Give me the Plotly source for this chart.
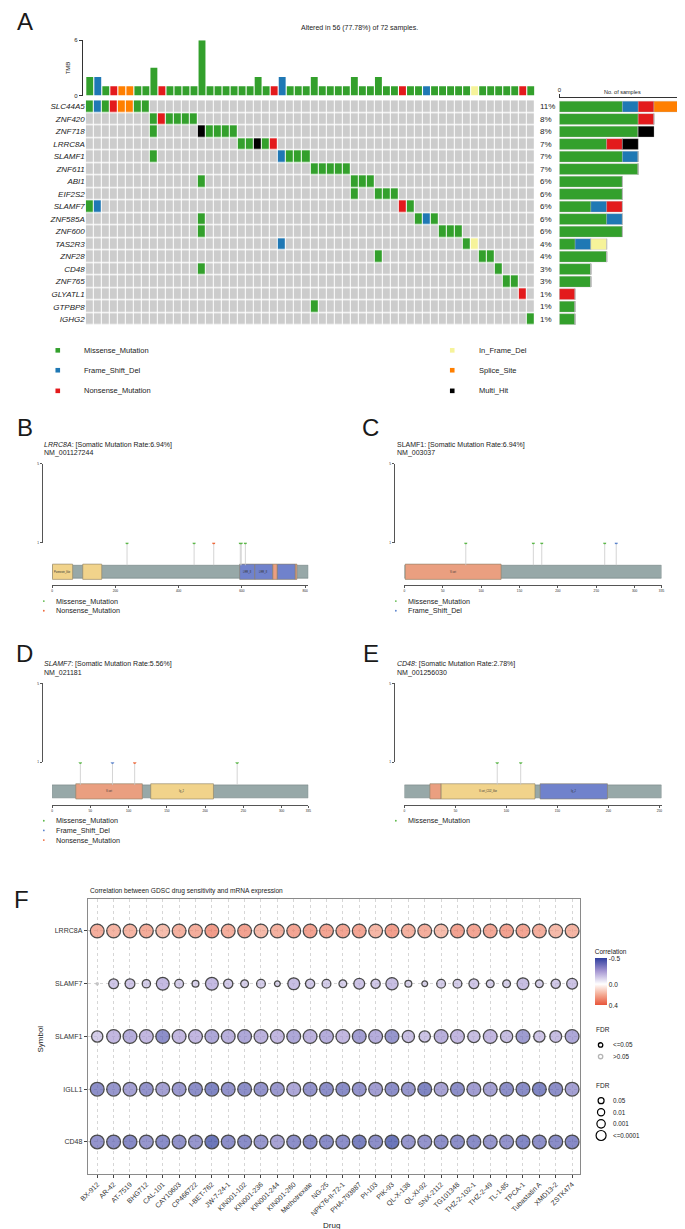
import math
import plotly.graph_objects as go

W, H = 685, 1229
FONT = "Liberation Sans, Arial, sans-serif"


def fx(p):
    return p / W


def fy(p):
    return 1 - p / H


# =========================== DATA ===========================
# ---- Panel A : oncoplot ----
TOTAL_SAMPLES = 72
genes = ["SLC44A5", "ZNF420", "ZNF718", "LRRC8A", "SLAMF1", "ZNF611", "ABI1", "EIF2S2",
         "SLAMF7", "ZNF585A", "ZNF600", "TAS2R3", "ZNF28", "CD48", "ZNF765", "GLYATL1",
         "GTPBP8", "IGHG2"]
variant_classes = ["Missense_Mutation", "Frame_Shift_Del", "Nonsense_Mutation",
                   "In_Frame_Del", "Splice_Site", "Multi_Hit"]
class_codes = ["M", "F", "N", "I", "S", "X"]
# (altered sample column, variant class code) for each gene
mut_SLC44A5 = [(1, "M"), (2, "F"), (3, "M"), (4, "N"), (5, "S"), (6, "S"), (7, "M"), (8, "M")]
mut_ZNF420 = [(9, "M"), (10, "N"), (11, "M"), (12, "M"), (13, "M"), (14, "M")]
mut_ZNF718 = [(9, "M"), (15, "X"), (16, "M"), (17, "M"), (18, "M"), (19, "M")]
mut_LRRC8A = [(20, "M"), (21, "M"), (22, "X"), (23, "M"), (24, "N")]
mut_SLAMF1 = [(9, "M"), (25, "F"), (26, "M"), (27, "M"), (28, "M")]
mut_ZNF611 = [(29, "M"), (30, "M"), (31, "M"), (32, "M"), (33, "M")]
mut_ABI1 = [(15, "M"), (34, "M"), (35, "M"), (36, "M")]
mut_EIF2S2 = [(34, "M"), (37, "M"), (38, "M"), (39, "M")]
mut_SLAMF7 = [(1, "M"), (2, "F"), (40, "N"), (41, "M")]
mut_ZNF585A = [(15, "M"), (42, "M"), (43, "F"), (44, "M")]
mut_ZNF600 = [(15, "M"), (45, "M"), (46, "M"), (47, "M")]
mut_TAS2R3 = [(25, "F"), (48, "M"), (49, "I")]
mut_ZNF28 = [(37, "M"), (50, "M"), (51, "M")]
mut_CD48 = [(15, "M"), (52, "M")]
mut_ZNF765 = [(53, "M"), (54, "M")]
mut_GLYATL1 = [(55, "N")]
mut_GTPBP8 = [(29, "M")]
mut_IGHG2 = [(56, "M")]
gene_mutations = [mut_SLC44A5, mut_ZNF420, mut_ZNF718, mut_LRRC8A, mut_SLAMF1, mut_ZNF611,
                  mut_ABI1, mut_EIF2S2, mut_SLAMF7, mut_ZNF585A, mut_ZNF600, mut_TAS2R3,
                  mut_ZNF28, mut_CD48, mut_ZNF765, mut_GLYATL1, mut_GTPBP8, mut_IGHG2]

# ---- Panels B-E : lollipop plots ----
lolli_genes = ["LRRC8A", "SLAMF1", "SLAMF7", "CD48"]
lolli_italic = [True, False, True, True]
lolli_transcripts = ["NM_001127244", "NM_003037", "NM_021181", "NM_001256030"]
lolli_lengths = [810, 335, 335, 252]
lolli_ticks = [[0, 200, 400, 600, 800],
               [0, 50, 100, 150, 200, 250, 300, 335],
               [0, 50, 100, 150, 200, 250, 300, 335],
               [0, 50, 100, 150, 200, 250]]
lolli_pos = [[237, 449, 511, 595, 598, 611],
             [80, 168, 179, 261, 276],
             [37, 79, 108, 242],
             [91, 114]]
lolli_cls = [["M", "M", "N", "M", "M", "M"],
             ["M", "M", "M", "M", "F"],
             ["M", "F", "N", "M"],
             ["M", "M"]]
lolli_domains = [
    [("Pannexin_like", 1, 65), ("Pannexin_like2", 97, 157), ("LRR_8", 593, 641),
     ("LRR_8b", 641, 698), ("LRR_4", 698, 712), ("LRR_8c", 712, 769), ("LRR_4b", 769, 774)],
    [("V-set", 1, 126)],
    [("V-set", 31, 118), ("Ig_2", 129, 211)],
    [("sig", 25, 36), ("V-set_CD48", 36, 128), ("Ig_2", 133, 199)],
]
lolli_domain_labels = {"Pannexin_like": "Pannexin_like", "LRR_8": "LRR_8", "LRR_8b": "LRR_8",
                       "V-set": "V-set", "Ig_2": "Ig_2", "V-set_CD48": "V-set_CD2_like"}

# ---- Panel F : GDSC correlation bubble plot ----
drugs = ["BX-912", "AR-42", "AT-7519", "BHG712", "CAL-101", "CAY10603", "CP466722",
         "I-BET-762", "JW-7-24-1", "KIN001-102", "KIN001-236", "KIN001-244", "KIN001-260",
         "Methotrexate", "NG-25", "NPK76-II-72-1", "PHA-793887", "PI-103", "PIK-93",
         "QL-X-138", "QL-XI-92", "SNX-2112", "TG101348", "THZ-2-102-1", "THZ-2-49",
         "TL-1-85", "TPCA-1", "Tubastatin A", "XMD13-2", "ZSTK474"]
symbols = ["LRRC8A", "SLAMF7", "SLAMF1", "IGLL1", "CD48"]
cor_LRRC8A = [0.27, 0.25, 0.25, 0.28, 0.22, 0.26, 0.27, 0.33, 0.27, 0.31, 0.23, 0.26, 0.30,
              0.31, 0.30, 0.30, 0.30, 0.24, 0.32, 0.26, 0.27, 0.22, 0.31, 0.30, 0.29, 0.31,
              0.30, 0.27, 0.23, 0.25]
cor_SLAMF7 = [-0.08, -0.19, -0.19, -0.17, -0.23, -0.17, -0.15, -0.23, -0.18, -0.16, -0.17,
              -0.14, -0.22, -0.18, -0.17, -0.16, -0.20, -0.18, -0.22, -0.15, -0.14, -0.17,
              -0.17, -0.19, -0.16, -0.16, -0.22, -0.16, -0.18, -0.20]
cor_SLAMF1 = [-0.17, -0.24, -0.28, -0.24, -0.40, -0.24, -0.24, -0.30, -0.27, -0.30, -0.26,
              -0.24, -0.30, -0.26, -0.28, -0.24, -0.34, -0.28, -0.37, -0.22, -0.20, -0.27,
              -0.24, -0.22, -0.24, -0.22, -0.35, -0.20, -0.22, -0.30]
cor_IGLL1 = [-0.40, -0.37, -0.33, -0.38, -0.33, -0.36, -0.40, -0.44, -0.38, -0.40, -0.38,
             -0.36, -0.30, -0.38, -0.40, -0.41, -0.38, -0.34, -0.40, -0.37, -0.44, -0.32,
             -0.40, -0.34, -0.33, -0.40, -0.41, -0.44, -0.40, -0.33]
cor_CD48 = [-0.38, -0.40, -0.42, -0.37, -0.41, -0.39, -0.37, -0.50, -0.40, -0.41, -0.37,
            -0.32, -0.40, -0.42, -0.41, -0.40, -0.46, -0.40, -0.50, -0.37, -0.38, -0.40,
            -0.40, -0.41, -0.37, -0.38, -0.43, -0.40, -0.41, -0.42]
fdr_LRRC8A = [1e-5, 2e-5, 1e-5, 1e-5, 3e-5, 1e-5, 1e-5, 1e-6, 1e-5, 1e-6, 2e-5, 1e-5, 1e-6,
              1e-6, 1e-6, 1e-6, 1e-5, 2e-5, 1e-6, 1e-5, 1e-5, 3e-5, 1e-6, 1e-6, 1e-5, 1e-6,
              1e-5, 1e-5, 5e-5, 2e-5]
fdr_SLAMF7 = [0.35, 1.7e-3, 1.7e-3, 4.9e-3, 2e-4, 3.5e-3, 0.014, 2e-4, 2.5e-3, 7e-3, 3.5e-3,
              0.029, 4e-4, 2.5e-3, 3.5e-3, 7e-3, 8e-4, 2.5e-3, 3e-4, 0.014, 0.029, 3.5e-3,
              3.5e-3, 1.7e-3, 7e-3, 7e-3, 4e-4, 7e-3, 2.5e-3, 8e-4]
fdr_SLAMF1 = [6e-4, 1e-5, 1e-5, 1e-5, 1e-6, 1e-5, 1e-5, 1e-6, 1e-5, 1e-6, 1e-5, 1e-5, 1e-6,
              1e-5, 1e-5, 1e-5, 1e-6, 1e-5, 1e-6, 3e-4, 6e-4, 1e-5, 1e-5, 3e-4, 1e-5, 3e-4,
              1e-6, 6e-4, 4e-4, 1e-6]
fdr_IGLL1 = [1e-7, 1e-7, 1e-6, 1e-7, 1e-6, 1e-7, 1e-7, 1e-8, 1e-7, 1e-7, 1e-7, 1e-7, 1e-6,
             1e-7, 1e-7, 1e-7, 1e-7, 1e-6, 1e-7, 1e-7, 1e-8, 1e-6, 1e-7, 1e-6, 1e-6, 1e-7,
             1e-7, 1e-8, 1e-7, 1e-6]
fdr_CD48 = [1e-7, 1e-7, 1e-7, 1e-7, 1e-7, 1e-7, 1e-7, 1e-9, 1e-7, 1e-7, 1e-7, 1e-6, 1e-7,
            1e-7, 1e-7, 1e-7, 1e-8, 1e-7, 1e-9, 1e-7, 1e-7, 1e-7, 1e-7, 1e-7, 1e-7, 1e-7,
            1e-8, 1e-7, 1e-7, 1e-7]
cor_rows = [cor_LRRC8A, cor_SLAMF7, cor_SLAMF1, cor_IGLL1, cor_CD48]
fdr_rows = [fdr_LRRC8A, fdr_SLAMF7, fdr_SLAMF1, fdr_IGLL1, fdr_CD48]
size_legend_fdr = ["0.05", "0.01", "0.001", "<=0.0001"]

# =========================== STYLE ===========================
CLASS_COLORS = {"M": "#33A02C", "F": "#1F78B4", "N": "#E31A1C", "I": "#F6F39A",
                "S": "#FF7F00", "X": "#000000"}
NONE_COLOR = "#CCCCCC"
LOLLI_COLORS = {"M": "#5DB84A", "F": "#5C84CC", "N": "#EE6A3D"}
DOMAIN_COLORS = {"Pannexin_like": "#F1D38B", "Pannexin_like2": "#F1D38B", "LRR_8": "#7082CC",
                 "LRR_8b": "#7082CC", "LRR_8c": "#7082CC", "LRR_4": "#EC9F80",
                 "LRR_4b": "#EC9F80", "V-set": "#EA9F80", "Ig_2": "#F1D38B",
                 "sig": "#EA9F80", "V-set_CD48": "#F1D38B"}
DOMAIN_COLORS_E = {"Ig_2": "#7082CC"}
TXT = "#222222"

fig = go.Figure()
annotations = []
shapes = []
lay = {}


def ann(text, x, y, size, xanchor="center", yanchor="middle", angle=0, color=TXT,
        xref="paper", yref="paper"):
    annotations.append(dict(text=text, x=x, y=y, xref=xref, yref=yref, showarrow=False,
                            xanchor=xanchor, yanchor=yanchor, textangle=angle,
                            font=dict(size=size, color=color, family=FONT)))


# =========================== PANEL A ===========================
n_cols = max(c for m in gene_mutations for c, _ in m)
cols = list(range(1, n_cols + 1))
n_altered = len({c for m in gene_mutations for c, _ in m})

# TMB bars (multi-hit counts as two missense variants)
tmb = {k: [0] * n_cols for k in class_codes}
for muts in gene_mutations:
    for c, k in muts:
        if k == "X":
            tmb["M"][c - 1] += 2
        else:
            tmb[k][c - 1] += 1
base = [0] * n_cols
for k in class_codes:
    vals = tmb[k]
    if sum(vals) == 0:
        continue
    fig.add_trace(go.Bar(x=cols, y=vals, base=list(base), width=0.86,
                         marker=dict(color=CLASS_COLORS[k], line_width=0),
                         xaxis="x", yaxis="y", showlegend=False, hoverinfo="skip"))
    base = [b + v for b, v in zip(base, vals)]

lay["xaxis"] = dict(domain=[fx(66.7), fx(527)], range=[0.1, 56.5], visible=False,
                    anchor="y")
lay["yaxis"] = dict(domain=[fy(85), fy(29.3)], range=[0, 6], tickvals=[0, 6],
                    ticks="outside", ticklen=3, tickwidth=0.7, tickcolor="#333",
                    showline=True, linecolor="#333", linewidth=0.7, showgrid=False,
                    zeroline=False, tickfont=dict(size=6, color=TXT), anchor="x")

# Mutation matrix
z = [[0] * n_cols for _ in genes]
for gi, muts in enumerate(gene_mutations):
    for c, k in muts:
        z[gi][c - 1] = class_codes.index(k) + 1
mat_colors = [NONE_COLOR] + [CLASS_COLORS[k] for k in class_codes]
cs = []
nC = len(mat_colors)
for i, col in enumerate(mat_colors):
    cs.append([i / nC, col])
    cs.append([(i + 1) / nC, col])
fig.add_trace(go.Heatmap(z=z, x=cols, y=list(range(len(genes))), colorscale=cs,
                         zmin=-0.5, zmax=nC - 0.5, showscale=False, xgap=1, ygap=1.3,
                         xaxis="x2", yaxis="y2", hoverinfo="skip"))
MAT_TOP, MAT_BOT = 89.7, 316.0
row_h = (MAT_BOT - MAT_TOP) / len(genes)
lay["xaxis2"] = dict(domain=[fx(70), fx(527)], range=[0.5, n_cols + 0.5], visible=False,
                     anchor="y2")
lay["yaxis2"] = dict(domain=[fy(MAT_BOT), fy(MAT_TOP)], range=[len(genes) - 0.5, -0.5],
                     tickvals=list(range(len(genes))),
                     ticktext=["<i>%s</i>" % g for g in genes], ticks="",
                     tickfont=dict(size=8, color=TXT), showgrid=False, zeroline=False,
                     showline=False, anchor="x2")

# percentages + right bar chart
counts = {k: [0] * len(genes) for k in class_codes}
for gi, muts in enumerate(gene_mutations):
    for c, k in muts:
        counts[k][gi] += 1
    pct = round(100 * len(muts) / TOTAL_SAMPLES)
    ann("%d%%" % pct, fx(530), gi, 8, xanchor="left", yref="y2")

base = [0] * len(genes)
for k in class_codes:
    vals = counts[k]
    fig.add_trace(go.Bar(y=list(range(len(genes))), x=vals, base=list(base), width=0.86,
                         orientation="h",
                         marker=dict(color=CLASS_COLORS[k], line=dict(color="#BBBBBB",
                                                                        width=0.3)),
                         xaxis="x3", yaxis="y3", showlegend=False, hoverinfo="skip"))
    base = [b + v for b, v in zip(base, vals)]
RB_TOP = 87.5
lay["xaxis3"] = dict(domain=[fx(552), fx(680.5)], range=[0, 8], side="top", tickvals=[0, 8],
                     ticks="outside", ticklen=3, tickwidth=0.7, tickcolor="#333",
                     showline=True, linecolor="#333", linewidth=0.7, showgrid=False,
                     zeroline=False, tickfont=dict(size=6, color=TXT), anchor="y3")
lay["yaxis3"] = dict(domain=[fy(MAT_BOT), fy(RB_TOP)],
                     range=[len(genes) - 0.5, -0.5 - (MAT_TOP - RB_TOP) / row_h],
                     visible=False, anchor="x3")
ann("No. of samples", fx(616.5), fy(81.5), 5.5)

ann("Altered in %d (%.2f%%) of %d samples." % (n_altered, 100 * n_altered / TOTAL_SAMPLES,
                                                TOTAL_SAMPLES), fx(349), fy(16.7), 7)
ann("TMB", fx(51.5), fy(57), 6, angle=-90)

# legend of panel A
leg_cols = [(41.5, 66.4), (443, 468.6)]
leg_rows = [341, 361, 381.7]
for i, (name, k) in enumerate(zip(variant_classes, class_codes)):
    cx, tx = leg_cols[i // 3]
    cy = leg_rows[i % 3]
    shapes.append(dict(type="rect", xref="paper", yref="paper", xsizemode="pixel",
                       ysizemode="pixel", xanchor=fx(cx), yanchor=fy(cy), x0=-2.3, x1=2.3,
                       y0=-2.3, y1=2.3, fillcolor=CLASS_COLORS[k], line_width=0))
    ann(name, fx(tx), fy(cy), 7.5, xanchor="left")

# =========================== PANELS B-E ===========================
panel_geom = [  # (axis x, bar x0, bar x1, title y, title x)
    (25.0, 35.7, 296.5, 436.0, 25.0),
    (383.3, 394.3, 656.0, 436.0, 384.5),
    (25.0, 35.7, 296.5, 656.7, 25.0),
    (383.3, 394.3, 656.0, 656.7, 384.5),
]
gene_mut_lookup = dict(zip(genes, gene_mutations))
TOP_VAL = 5
for p in range(4):
    ax_x, bx0, bx1, t, tx = panel_geom[p]
    xi, ydi, yci = 4 + p, 4 + 2 * p, 5 + 2 * p
    xa, yd, yc = "x%d" % xi, "y%d" % ydi, "y%d" % yci
    L = lolli_lengths[p]
    y_top, y_head, y_line = t + 19, t + 98.3, t + 141.3
    bar_top, bar_bot = t + 121, t + 134
    u = (y_head - y_top) / (TOP_VAL - 1)

    def to_u(py):
        return 1 - (py - y_head) / u

    lay["xaxis%d" % xi] = dict(domain=[fx(bx0), fx(bx1)], range=[0, L],
                               tickvals=lolli_ticks[p], ticks="outside", ticklen=2,
                               tickwidth=0.5, tickcolor="#555", showline=True,
                               linecolor="#555", linewidth=0.6, showgrid=False,
                               zeroline=False, tickfont=dict(size=3.2, color=TXT),
                               anchor=yd)
    lay["yaxis%d" % ydi] = dict(domain=[fy(y_line), fy(y_top)],
                                range=[to_u(y_line), TOP_VAL], visible=False, anchor=xa)
    lay["yaxis%d" % yci] = dict(domain=[fy(y_head), fy(y_top)], range=[1, TOP_VAL],
                                anchor="free", position=fx(ax_x), tickvals=[1, TOP_VAL],
                                ticks="outside", ticklen=2, tickwidth=0.5, tickcolor="#555",
                                showline=True, linecolor="#555", linewidth=0.6,
                                showgrid=False, zeroline=False,
                                tickfont=dict(size=3.2, color=TXT))
    # invisible trace so that the count axis is drawn
    fig.add_trace(go.Scatter(x=[0], y=[1], mode="markers", marker=dict(opacity=0),
                             xaxis=xa, yaxis=yc, showlegend=False, hoverinfo="skip"))

    bc = (to_u(bar_top) + to_u(bar_bot)) / 2
    bh = to_u(bar_top) - to_u(bar_bot)
    # stems
    sx, sy = [], []
    for pos in lolli_pos[p]:
        sx += [pos, pos, None]
        sy += [to_u(bar_top), 1, None]
    fig.add_trace(go.Scatter(x=sx, y=sy, mode="lines", line=dict(color="#C9C9C9", width=0.8),
                             xaxis=xa, yaxis=yd, showlegend=False, hoverinfo="skip"))
    # protein backbone
    fig.add_trace(go.Bar(y=[bc], x=[L], base=[0], width=[bh], orientation="h",
                         marker=dict(color="#97A8A8", line=dict(color="#6E7E7E", width=0.6)),
                         xaxis=xa, yaxis=yd, showlegend=False, hoverinfo="skip"))
    # domains
    for name, s, e in lolli_domains[p]:
        colr = DOMAIN_COLORS_E.get(name, DOMAIN_COLORS[name]) if p == 3 else DOMAIN_COLORS[name]
        fig.add_trace(go.Bar(y=[bc], x=[e - s], base=[s], width=[bh * 1.18], orientation="h",
                             marker=dict(color=colr, line=dict(color="#8C7F66", width=0.6)),
                             xaxis=xa, yaxis=yd, showlegend=False, hoverinfo="skip"))
        if name in lolli_domain_labels:
            ann(lolli_domain_labels[name], (s + e) / 2, bc, 2.6, xref=xa, yref=yd,
                color="#333")
    # heads
    fig.add_trace(go.Scatter(x=lolli_pos[p], y=[1] * len(lolli_pos[p]), mode="markers",
                             marker=dict(size=3.2, color=[LOLLI_COLORS[c] for c in lolli_cls[p]],
                                         line=dict(width=0)),
                             xaxis=xa, yaxis=yd, showlegend=False, hoverinfo="skip",
                             cliponaxis=False))
    # titles
    g = lolli_genes[p]
    gtxt = "<i>%s</i>" % g if lolli_italic[p] else g
    rate = 100 * len(gene_mut_lookup[g]) / TOTAL_SAMPLES
    ann("%s: [Somatic Mutation Rate:%.2f%%]" % (gtxt, rate), fx(tx), fy(t), 7,
        xanchor="left")
    ann(lolli_transcripts[p], fx(tx), fy(t + 8.3), 7, xanchor="left")
    # legend
    present = [k for k in ["M", "F", "N"] if k in lolli_cls[p]]
    for j, k in enumerate(present):
        ly = t + 157 + 9.7 * j
        shapes.append(dict(type="circle", xref="paper", yref="paper", xsizemode="pixel",
                           ysizemode="pixel", xanchor=fx(ax_x + 2.3), yanchor=fy(ly),
                           x0=-0.9, x1=0.9, y0=-0.9, y1=0.9, fillcolor=LOLLI_COLORS[k],
                           line_width=0))
        ann(variant_classes[class_codes.index(k)], fx(ax_x + 12.3), fy(ly), 7.2,
            xanchor="left")

# =========================== PANEL F ===========================
F_L, F_R, F_T, F_B = 72.0, 573.5, 892.7, 1168.3


def fdr_to_diam(f):
    return 2 + 3.25 * min(-math.log10(f), 4)


px_, py_, cv_, sz_, lc_ = [], [], [], [], []
for i, (crow, frow) in enumerate(zip(cor_rows, fdr_rows)):
    for j, (c, f) in enumerate(zip(crow, frow)):
        px_.append(j)
        py_.append(i)
        cv_.append(-c)
        sz_.append(fdr_to_diam(f) - 1.2)
        lc_.append("#000000" if f <= 0.05 else "#B5B5B5")

CS = [[0.0, "#E8553A"], [0.2222, "#F4AB94"], [0.4444, "#FFFFFF"], [0.7222, "#A596D2"],
      [1.0, "#2F3E9E"]]
fig.add_trace(go.Scatter(
    x=px_, y=py_, mode="markers", xaxis="x8", yaxis="y12", showlegend=False,
    hoverinfo="skip", cliponaxis=False,
    marker=dict(size=sz_, color=cv_, colorscale=CS, cmin=-0.4, cmax=0.5,
                line=dict(color=lc_, width=1.3),
                colorbar=dict(x=fx(588), xanchor="left", y=fy(969.5), yanchor="middle",
                              len=59, lenmode="pixels", thickness=12, xpad=0, ypad=0,
                              tickvals=[0.5, 0.0, -0.4], ticktext=["-0.5", "0.0", "0.4"],
                              ticks="", outlinewidth=0,
                              tickfont=dict(size=6.5, color=TXT, family=FONT),
                              title=dict(text="Correlation", side="top",
                                         font=dict(size=6.5, color=TXT, family=FONT))))))

grid = dict(showgrid=True, gridcolor="#D6D6D6", griddash="dot", gridwidth=0.7,
            showline=True, mirror=True, linecolor="#8A8A8A", linewidth=1,
            ticks="outside", ticklen=3, tickwidth=0.7, tickcolor="#444", zeroline=False)
lay["xaxis8"] = dict(domain=[fx(F_L), fx(F_R)], range=[-0.58, len(drugs) - 0.49],
                     tickvals=list(range(len(drugs))), ticktext=drugs, tickangle=-45,
                     tickfont=dict(size=7, color="#333"), anchor="y12", **grid)
lay["yaxis12"] = dict(domain=[fy(F_B), fy(F_T)], range=[len(symbols) - 0.4, -0.6],
                      tickvals=list(range(len(symbols))), ticktext=symbols,
                      tickfont=dict(size=7, color="#333"), anchor="x8", **grid)

ann("Correlation between GDSC drug sensitivity and mRNA expression", fx(72), fy(884), 6.6,
    xanchor="left")
ann("Drug", fx(320), fy(1220.5), 8)
ann("Symbol", fx(24), fy(1033), 8, angle=-90)

# FDR significance legend
ann("FDR", fx(587.5), fy(1023.3), 6.5, xanchor="left")
for lab, yy, colr in [("<=0.05", 1039, "#000000"), (">0.05", 1050.7, "#B5B5B5")]:
    shapes.append(dict(type="circle", xref="paper", yref="paper", xsizemode="pixel",
                       ysizemode="pixel", xanchor=fx(594), yanchor=fy(yy), x0=-2.2, x1=2.2,
                       y0=-2.2, y1=2.2, line=dict(color=colr, width=1.3),
                       fillcolor="rgba(0,0,0,0)"))
    ann(lab, fx(604.3), fy(yy), 6.3, xanchor="left")
# FDR size legend
ann("FDR", fx(587.5), fy(1080), 6.5, xanchor="left")
ring_r = [3.0, 3.6, 4.2, 5.0]
for lab, yy, r in zip(size_legend_fdr, [1095, 1106.7, 1118.3, 1130], ring_r):
    shapes.append(dict(type="circle", xref="paper", yref="paper", xsizemode="pixel",
                       ysizemode="pixel", xanchor=fx(594.5), yanchor=fy(yy), x0=-r, x1=r,
                       y0=-r, y1=r, line=dict(color="#000000", width=1.2),
                       fillcolor="rgba(0,0,0,0)"))
    ann(lab, fx(605), fy(yy), 6.3, xanchor="left")

# panel letters
for letter, x, y in [("A", 8, 11), ("B", 8, 419), ("C", 360, 419), ("D", 8, 646),
                     ("E", 360, 646), ("F", 5, 893)]:
    ann(letter, fx(x), fy(y), 24, color="#1A1A1A")

fig.update_layout(width=W, height=H, margin=dict(l=0, r=0, t=0, b=0),
                  paper_bgcolor="white", plot_bgcolor="white", barmode="overlay",
                  font=dict(family=FONT, color=TXT), showlegend=False,
                  annotations=annotations, shapes=shapes, **lay)
fig.write_html("out.html")
